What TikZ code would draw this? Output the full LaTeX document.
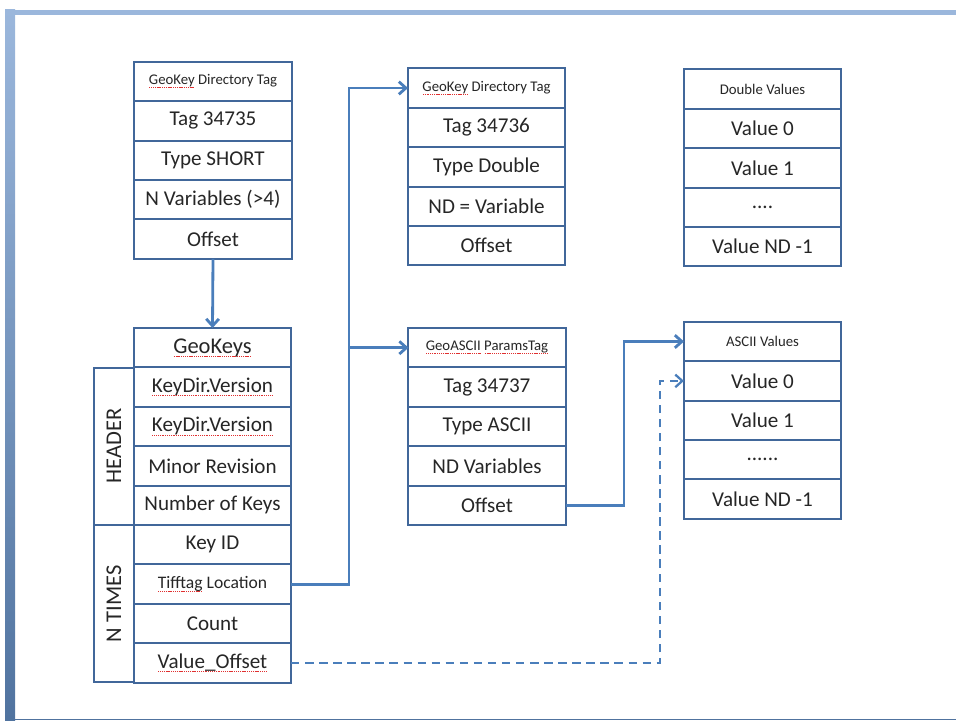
\documentclass[tikz,border=0pt]{standalone}
\usepackage{fontspec}
\setmainfont{Carlito}
\usetikzlibrary{positioning,arrows.meta}

\definecolor{boxblue}{HTML}{41679A}
\definecolor{linkblue}{HTML}{4A7EBB}
\definecolor{framelight}{HTML}{9BB7DC}
\definecolor{framedark}{HTML}{50739F}
\definecolor{spellred}{HTML}{E03030}
\definecolor{inkgray}{HTML}{262626}

% word with a red dotted underline
\newcommand\spell[1]{\setbox0\hbox{#1}\leavevmode\rlap{\copy0}\raisebox{-2.6pt}{\textcolor{spellred}{\xleaders\hbox to 1.3pt{\hss\rule{0.8pt}{0.7pt}\hss}\hskip\wd0}}}

\begin{document}
\begin{tikzpicture}[x=0.025cm,y=-0.025cm]
        \tikzstyle{field}=[draw=boxblue,line width=1.4pt,minimum width=3.925cm,minimum height=0.985cm,inner sep=0pt,outer sep=0pt,text=inkgray,font=\fontsize{15}{17}\selectfont]
        \tikzstyle{title}=[field,font=\fontsize{10.5}{12}\selectfont]
        \tikzstyle{side}=[field,rotate=90,minimum width=3.92cm,minimum height=1cm,font=\fontsize{16}{18}\selectfont]
        \tikzstyle{link}=[draw=linkblue,line width=2pt,-{Straight Barb[length=5pt,width=9pt]}]
        \tikzstyle{dlink}=[link,line width=1.6pt,dash pattern=on 6pt off 4pt]
        \useasboundingbox (0,0) rectangle (956,722);
        % slide frame
        \fill[framelight] (5,10) rectangle (956,15);
        \shade[top color=framelight,bottom color=framedark] (5,10) rectangle (15,720);
        \draw[framedark,line width=0.8pt] (5,719.5) -- (956,719.5);
       \begin{scope}
         % tag 34735
         \node [title] (a1) at (213,81.5) {\spell{GeoKey} Directory Tag};
         \node [field,below=0pt of a1] (a2) {Tag 34735};
         \node [field,below=0pt of a2] (a3) {Type SHORT};
         \node [field,below=0pt of a3] (a4) {N Variables (>4)};
         \node [field,below=0pt of a4] (a5) {Offset};
         % geokeys
         \node [field,font=\fontsize{16}{18}\selectfont] (b1) at (212.5,347.7) {\spell{GeoKeys}};
         \node [field,below=0pt of b1] (b2) {\spell{KeyDir.Version}};
         \node [field,below=0pt of b2] (b3) {\spell{KeyDir.Version}};
         \node [field,below=0pt of b3] (b4) {Minor Revision};
         \node [field,below=0pt of b4] (b5) {Number of Keys};
         \node [field,below=0pt of b5] (b6) {Key ID};
         \node [field,font=\fontsize{12.5}{14}\selectfont,below=0pt of b6] (b7) {\spell{Tifftag} Location};
         \node [field,below=0pt of b7] (b8) {Count};
         \node [field,below=0pt of b8] (b9) {\spell{Value\_Offset}};
         \node [side] (hdr) at (114,446.2) {HEADER};
         \node [side] (ntimes) at (114,603.8) {N TIMES};
         % tag 34736
         \node [title] (c1) at (486.5,88) {\spell{GeoKey} Directory Tag};
         \node [field,below=0pt of c1] (c2) {Tag 34736};
         \node [field,below=0pt of c2] (c3) {Type Double};
         \node [field,below=0pt of c3] (c4) {ND = Variable};
         \node [field,below=0pt of c4] (c5) {Offset};
         % double values
         \node [title] (d1) at (762.5,89) {Double Values};
         \node [field,below=0pt of d1] (d2) {Value 0};
         \node [field,below=0pt of d2] (d3) {Value 1};
         \node [field,below=0pt of d3] (d4) {....};
         \node [field,below=0pt of d4] (d5) {Value ND -1};
         % tag 34737
         \node [title] (e1) at (487,347.7) {\spell{GeoASCII} \spell{ParamsTag}};
         \node [field,below=0pt of e1] (e2) {Tag 34737};
         \node [field,below=0pt of e2] (e3) {Type ASCII};
         \node [field,below=0pt of e3] (e4) {ND Variables};
         \node [field,below=0pt of e4] (e5) {Offset};
         % ascii values
         \node [title] (f1) at (762.5,341.5) {ASCII Values};
         \node [field,below=0pt of f1] (f2) {Value 0};
         \node [field,below=0pt of f2] (f3) {Value 1};
         \node [field,below=0pt of f3] (f4) {......};
         \node [field,below=0pt of f4] (f5) {Value ND -1};
         % pointers
         \draw[link] (a5.south) -- (b1.north);
         \draw[link] (b7.east) -- ++(58,0) coordinate (fork) |- (c1.west);
         \draw[link] (fork |- e1.west) -- (e1.west);
         \draw[link] (e5.east) -| ([xshift=-1.5cm]f1.west) -- (f1.west);
         \draw[dlink] (b9.east) -| ([xshift=-0.6cm]f2.west) -- (f2.west);
        \end{scope}
\end{tikzpicture}
\end{document}
